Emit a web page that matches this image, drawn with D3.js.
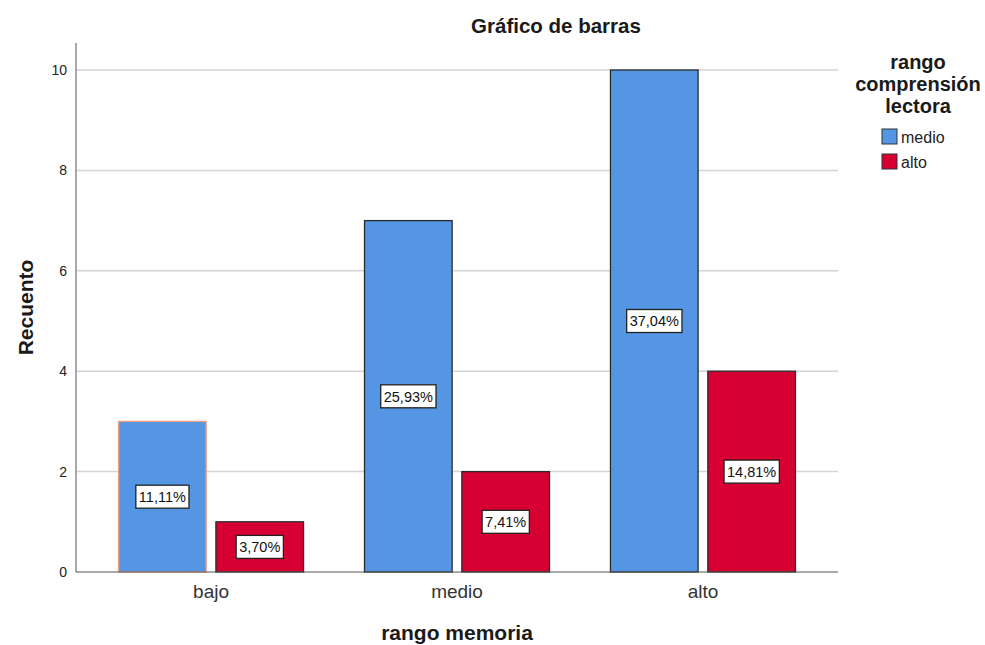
<!DOCTYPE html>
<html>
<head>
<meta charset="utf-8">
<script src="https://cdn.jsdelivr.net/npm/d3@7"></script>
<style>
  body { margin: 0; background: #fff; }
  text { font-family: Arial, "Liberation Sans", sans-serif; }
</style>
</head>
<body>
<svg id="chart" width="985" height="645"></svg>
<script>
// categorías del eje X
const categories = ["bajo", "medio", "alto"];
// series de la leyenda
const series = ["medio", "alto"];
// recuentos por serie
const medioValues = [3, 7, 10];
const altoValues = [1, 2, 4];
// etiquetas de porcentaje
const medioLabels = ["11,11%", "25,93%", "37,04%"];
const altoLabels = ["3,70%", "7,41%", "14,81%"];
const yTicks = [0, 2, 4, 6, 8, 10];

const colors = { medio: "#5496e3", alto: "#d70032" };

const svg = d3.select("#chart");
const plotL = 76, plotR = 838, plotT = 43, plotB = 572;

const x0 = d3.scaleBand().domain(categories).range([plotL, plotR]).paddingInner(0).paddingOuter(0.049);
const groupW = 185;
const x1 = d3.scaleBand().domain(series).range([0, groupW]).paddingInner(0.1);
const y = d3.scaleLinear().domain([0, 10]).range([plotB, 70]);

// rejilla
svg.append("g")
    .selectAll("line")
    .data(yTicks.slice(1))
    .enter()
    .append("line")
    .attr("x1", plotL).attr("x2", plotR)
    .attr("y1", d => y(d)).attr("y2", d => y(d))
    .attr("stroke", "#d4d4d4")
    .attr("stroke-width", 1.5);

// eje Y
const yAxis = d3.axisLeft(y).tickValues(yTicks).tickSize(0).tickPadding(9).tickFormat(d3.format("d"));
const gy = svg.append("g").attr("transform", `translate(${plotL},0)`).call(yAxis);
gy.select(".domain").remove();
gy.selectAll("text").attr("font-size", 14).attr("fill", "#222");
svg.append("line")
    .attr("x1", plotL).attr("x2", plotL).attr("y1", plotT).attr("y2", plotB)
    .attr("stroke", "#8c8c8c").attr("stroke-width", 1.5);

// barras
const rows = [];
categories.forEach((c, i) => {
    rows.push({ cat: c, s: "medio", v: medioValues[i], label: medioLabels[i] });
    rows.push({ cat: c, s: "alto", v: altoValues[i], label: altoLabels[i] });
});
const barX = d => x0(d.cat) + (x0.bandwidth() - groupW) / 2 + x1(d.s);

svg.append("g")
    .selectAll("rect")
    .data(rows)
    .enter()
    .append("rect")
    .attr("x", barX)
    .attr("y", d => y(d.v))
    .attr("width", x1.bandwidth())
    .attr("height", d => y(0) - y(d.v))
    .attr("fill", d => colors[d.s])
    .attr("stroke", (d, i) => i === 0 ? "#f0a080" : "#2b2b2b")
    .attr("stroke-width", 1.3);

// eje X
svg.append("line")
    .attr("x1", plotL).attr("x2", plotR).attr("y1", plotB).attr("y2", plotB)
    .attr("stroke", "#555").attr("stroke-width", 1.2);
const xAxis = d3.axisBottom(x0).tickSize(0).tickPadding(13);
const gx = svg.append("g").attr("transform", `translate(0,${plotB})`).call(xAxis);
gx.select(".domain").remove();
gx.selectAll("text").attr("font-size", 19).attr("fill", "#333");

// etiquetas de porcentaje
const lab = svg.append("g")
    .selectAll("g")
    .data(rows)
    .enter()
    .append("g")
    .attr("transform", d => `translate(${barX(d) + x1.bandwidth() / 2},${y(d.v / 2)})`);
lab.append("text")
    .attr("text-anchor", "middle")
    .attr("dy", "0.36em")
    .attr("font-size", 14.5)
    .attr("fill", "#111")
    .text(d => d.label);
lab.each(function () {
    const g = d3.select(this);
    const bb = g.select("text").node().getBBox();
    g.insert("rect", "text")
        .attr("x", bb.x - 3).attr("y", -11.5)
        .attr("width", bb.width + 6).attr("height", 23)
        .attr("fill", "#fff").attr("stroke", "#222").attr("stroke-width", 1.3);
});

// títulos
svg.append("text")
    .attr("x", 556).attr("y", 33)
    .attr("text-anchor", "middle")
    .attr("font-size", 20.5).attr("font-weight", "bold").attr("fill", "#1a1a1a")
    .text("Gráfico de barras");
svg.append("text")
    .attr("transform", `translate(33,${(plotT + plotB) / 2 + 0}) rotate(-90)`)
    .attr("text-anchor", "middle")
    .attr("font-size", 21).attr("font-weight", "bold").attr("fill", "#1a1a1a")
    .text("Recuento");
svg.append("text")
    .attr("x", 457).attr("y", 640)
    .attr("text-anchor", "middle")
    .attr("font-size", 21).attr("font-weight", "bold").attr("fill", "#1a1a1a")
    .text("rango memoria");

// leyenda
const legTitle = ["rango", "comprensión", "lectora"];
svg.append("g")
    .selectAll("text")
    .data(legTitle)
    .enter()
    .append("text")
    .attr("x", 918).attr("y", (d, i) => 69 + i * 22)
    .attr("text-anchor", "middle")
    .attr("font-size", 20).attr("font-weight", "bold").attr("fill", "#1a1a1a")
    .text(d => d);
const leg = svg.append("g")
    .selectAll("g")
    .data(series)
    .enter()
    .append("g")
    .attr("transform", (d, i) => `translate(882,${129 + i * 25})`);
leg.append("rect")
    .attr("width", 15).attr("height", 15)
    .attr("fill", d => colors[d]).attr("stroke", "#333").attr("stroke-width", 1);
leg.append("text")
    .attr("x", 19).attr("y", 13.5)
    .attr("font-size", 16).attr("fill", "#222")
    .text(d => d);
</script>
</body>
</html>
